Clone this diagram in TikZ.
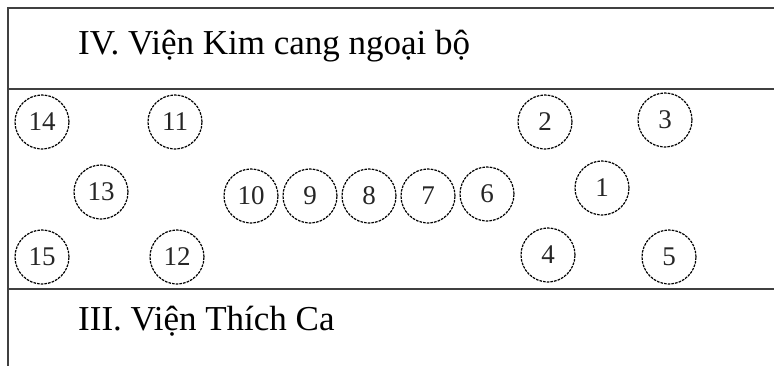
\documentclass[tikz,border=0pt]{standalone}
\usepackage{fontspec}
\setmainfont{Liberation Serif}
\begin{document}
\begin{tikzpicture}[x=1pt,y=-1pt,
  seat/.style={circle,draw=black,line width=1.2pt,dash pattern=on 2.6pt off 1.1pt,minimum size=54pt,inner sep=0pt,font=\fontsize{27}{27}\selectfont,text=black!85},
  frame/.style={line width=1.6pt,draw=black!75},
  title/.style={anchor=base west,inner sep=0pt,font=\fontsize{35}{35}\selectfont,text=black}]
\useasboundingbox (0,0) rectangle (774,366);
% frame
\coordinate (tl) at (8,8);
\coordinate (tr) at (774,8);
\coordinate (bl) at (8,366);
\coordinate (ml) at (8,89);
\coordinate (mr) at (774,89);
\coordinate (nl) at (8,289);
\coordinate (nr) at (774,289);
\draw[frame] (tr) -- (tl) -- (bl);
\draw[frame] (ml) -- (mr);
\draw[frame] (nl) -- (nr);
% titles
\node[title] (t4) at (78,55) {IV. Viện Kim cang ngoại bộ};
\node[title] (t3) at (78,330) {III. Viện Thích Ca};
% seats
\node[seat] (c1) at (602,188) {1};
\node[seat] (c2) at (545,122) {2};
\node[seat] (c3) at (665,120) {3};
\node[seat] (c4) at (548,255) {4};
\node[seat] (c5) at (669,257) {5};
\node[seat] (c6) at (487,194) {6};
\node[seat] (c7) at (428,196) {7};
\node[seat] (c8) at (369,196) {8};
\node[seat] (c9) at (310,196) {9};
\node[seat] (c10) at (251,196) {10};
\node[seat] (c11) at (175,122) {11};
\node[seat] (c12) at (177,257) {12};
\node[seat] (c13) at (101,192) {13};
\node[seat] (c14) at (42,122) {14};
\node[seat] (c15) at (42,257) {15};
\end{tikzpicture}
\end{document}
